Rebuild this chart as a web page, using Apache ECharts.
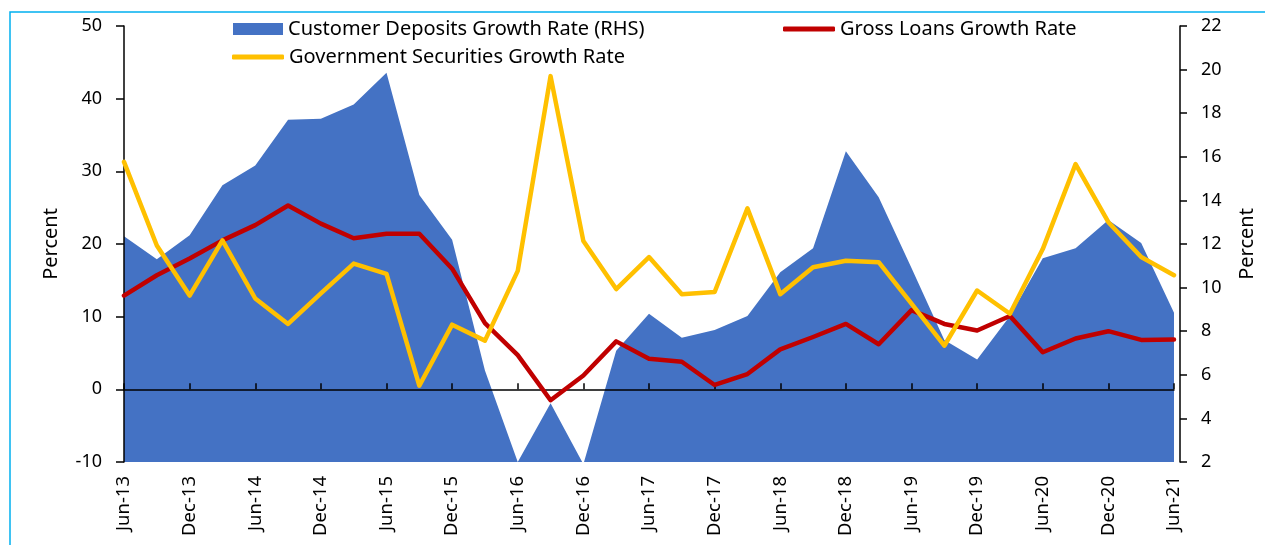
<!DOCTYPE html>
<html>
<head>
<meta charset="utf-8">
<script src="https://cdn.jsdelivr.net/npm/echarts@6/dist/echarts.min.js"></script>
<style>
html,body{margin:0;padding:0;background:#fff;}
#chart{width:1265px;height:545px;}
</style>
</head>
<body>
<div id="chart"></div>
<script>
var categories = ['Jun-13','Sep-13','Dec-13','Mar-14','Jun-14','Sep-14','Dec-14','Mar-15','Jun-15','Sep-15','Dec-15','Mar-16','Jun-16','Sep-16','Dec-16','Mar-17','Jun-17','Sep-17','Dec-17','Mar-18','Jun-18','Sep-18','Dec-18','Mar-19','Jun-19','Sep-19','Dec-19','Mar-20','Jun-20','Sep-20','Dec-20','Mar-21','Jun-21'];
var depositsRHS = [12.35,11.3,12.4,14.7,15.6,17.7,17.75,18.4,19.85,14.25,12.2,6.2,2.0,4.7,1.9,7.1,8.8,7.7,8.05,8.7,10.7,11.8,16.25,14.15,10.9,7.6,6.7,8.7,11.35,11.8,13.1,12.05,8.85];
var grossLoans = [12.9,15.7,18.0,20.5,22.6,25.3,22.8,20.8,21.4,21.4,16.6,9.1,4.7,-1.5,1.9,6.6,4.2,3.8,0.6,2.1,5.5,7.2,9.0,6.2,10.9,9.0,8.1,10.1,5.1,7.0,8.0,6.8,6.85];
var govSecurities = [31.3,19.8,12.9,20.5,12.5,9.0,13.2,17.3,15.9,0.5,8.9,6.7,16.3,43.1,20.4,13.8,18.2,13.1,13.4,24.9,13.1,16.8,17.7,17.5,11.8,6.0,13.6,10.4,19.3,31.0,23.0,18.2,15.7];
var leftTicks = {min:-10, max:50, interval:10};
var rightTicks = {min:2, max:22, interval:2};

var FONT = 'Noto Sans';
var chart = echarts.init(document.getElementById('chart'), null, {renderer:'canvas'});
var legendText = {fontFamily:FONT, fontSize:20, color:'#000'};
chart.setOption({
  animation:false,
  backgroundColor:'#fff',
  textStyle:{fontFamily:FONT},
  graphic:[{type:'rect', shape:{x:10,y:12,width:1300,height:600}, style:{fill:'none', stroke:'#00B0F0', lineWidth:1.5}, silent:true}],
  legend:[
    {left:228, top:14, itemWidth:50, itemHeight:12, itemGap:5, textStyle:legendText, data:[{name:'Customer Deposits Growth Rate (RHS)', icon:'rect'}]},
    {left:778, top:14, itemWidth:52, itemHeight:5, textStyle:legendText, data:[{name:'Gross Loans Growth Rate', icon:'roundRect'}]},
    {left:227, top:42, itemWidth:52, itemHeight:5, textStyle:legendText, data:[{name:'Government Securities Growth Rate', icon:'roundRect'}]}
  ],
  grid:{left:124, right:89, top:26, bottom:83, containLabel:false},
  xAxis:[
    {type:'category', data:categories, boundaryGap:false, position:'bottom',
     axisLine:{show:false, onZero:false}, axisTick:{show:false}, splitLine:{show:false},
     axisLabel:{interval:1, rotate:90, margin:14, fontFamily:FONT, fontSize:18.5, color:'#000'}},
    {type:'category', data:categories, boundaryGap:false, position:'bottom', z:1.5,
     axisLine:{show:true, onZero:true, onZeroAxisIndex:0, lineStyle:{color:'#000', width:1.5}},
     axisTick:{show:true, inside:true, interval:1, length:6, lineStyle:{color:'#000', width:1.5}},
     axisLabel:{show:false}, splitLine:{show:false}}
  ],
  yAxis:[
    {type:'value', min:leftTicks.min, max:leftTicks.max, interval:leftTicks.interval, position:'left', z:3,
     name:'Percent', nameLocation:'middle', nameGap:63, nameRotate:90,
     nameTextStyle:{fontFamily:FONT, fontSize:20, color:'#000'},
     axisLine:{show:true, lineStyle:{color:'#000', width:1.5}},
     axisTick:{show:true, inside:false, length:8, lineStyle:{color:'#000', width:1.5}},
     axisLabel:{fontFamily:FONT, fontSize:18, color:'#000', margin:22},
     splitLine:{show:false}},
    {type:'value', min:rightTicks.min, max:rightTicks.max, interval:rightTicks.interval, position:'right', offset:6, z:3,
     name:'Percent', nameLocation:'middle', nameGap:57, nameRotate:90,
     nameTextStyle:{fontFamily:FONT, fontSize:20, color:'#000'},
     axisLine:{show:true, lineStyle:{color:'#000', width:1.5}},
     axisTick:{show:true, inside:false, length:7, lineStyle:{color:'#000', width:1.5}},
     axisLabel:{fontFamily:FONT, fontSize:18, color:'#000', margin:21},
     splitLine:{show:false}}
  ],
  series:[
    {name:'Customer Deposits Growth Rate (RHS)', type:'line', yAxisIndex:1, data:depositsRHS, z:1,
     showSymbol:false, symbol:'none', clip:true,
     lineStyle:{width:0, color:'#4472C4'}, itemStyle:{color:'#4472C4'},
     areaStyle:{color:'#4472C4', opacity:1, origin:'start'}},
    {name:'Gross Loans Growth Rate', type:'line', yAxisIndex:0, data:grossLoans, z:3,
     showSymbol:false, symbol:'none',
     lineStyle:{width:4.5, color:'#C00000', cap:'round', join:'round'}, itemStyle:{color:'#C00000'}},
    {name:'Government Securities Growth Rate', type:'line', yAxisIndex:0, data:govSecurities, z:4,
     showSymbol:false, symbol:'none',
     lineStyle:{width:4.5, color:'#FFC000', cap:'round', join:'round'}, itemStyle:{color:'#FFC000'}}
  ]
});
</script>
</body>
</html>
